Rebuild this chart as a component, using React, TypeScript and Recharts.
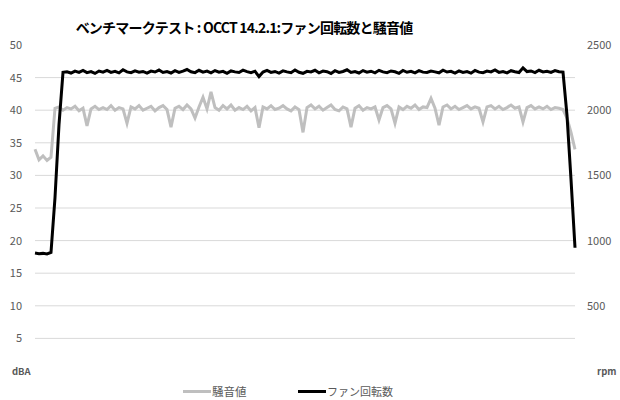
import React from "react";
import { LineChart, Line, XAxis, YAxis, ReferenceLine } from "recharts";

const TITLE = "ベンチマークテスト : OCCT 14.2.1:ファン回転数と騒音値";
const NOISE_NAME = "騒音値";
const FAN_NAME = "ファン回転数";

// 騒音値 (dBA)
const noise: number[] = [
  34.0, 32.4, 33.0, 32.3, 32.8,
  40.3, 40.5, 40.0, 40.4, 40.2,
  40.6, 39.9, 40.3, 37.6, 40.2, 40.6, 40.1, 40.4, 40.1, 40.7,
  40.0, 40.4, 40.2, 38.0, 40.5, 40.2, 40.7, 40.0, 40.3, 40.6,
  39.9, 40.4, 40.7, 40.1, 37.4, 40.3, 40.6, 40.1, 40.8, 40.2,
  38.8, 40.5, 42.0, 40.2, 42.8, 40.4, 40.0, 40.7, 40.2, 40.8,
  40.0, 40.4, 40.1, 40.6, 39.9, 40.4, 37.3, 40.5, 40.2, 40.7,
  40.1, 40.3, 40.7, 40.2, 39.9, 40.5, 40.1, 36.6, 40.4, 40.8,
  40.2, 40.6, 40.0, 40.4, 40.8, 40.1, 39.9, 40.5, 40.2, 37.4,
  40.3, 40.7, 40.0, 40.4, 40.2, 40.5, 38.5, 40.4, 40.7, 40.2,
  38.0, 40.5, 40.1, 40.6, 40.3, 40.8, 40.1, 40.5, 40.4, 41.8,
  40.3, 37.7, 40.5, 40.8, 40.2, 40.6, 40.1, 40.4, 40.7, 40.2,
  40.5, 40.3, 38.2, 40.5, 40.7, 40.2, 40.6, 40.1, 40.4, 40.8,
  40.3, 40.5, 38.2, 40.4, 40.7, 40.2, 40.5, 40.2, 40.6, 40.1,
  40.4, 40.3, 40.1, 38.8, 36.6, 34.0,
];

// ファン回転数 (rpm)
const fan: number[] = [
  905, 900, 902, 898, 910, 1330, 1890, 2290, 2295, 2285,
  2300, 2290, 2305, 2288, 2296, 2282, 2300, 2292, 2305, 2290,
  2298, 2286, 2310, 2294, 2288, 2302, 2291, 2297, 2284, 2300,
  2293, 2308, 2289, 2296, 2285, 2303, 2290, 2299, 2312, 2295,
  2288, 2306, 2292, 2300, 2286, 2304, 2291, 2298, 2283, 2301,
  2294, 2289, 2307, 2296, 2288, 2299, 2258, 2293, 2305, 2290,
  2297, 2285, 2302, 2294, 2288, 2309, 2291, 2283, 2298, 2293,
  2306, 2287, 2300, 2295, 2282, 2303, 2290, 2297, 2310, 2289,
  2296, 2285, 2304, 2292, 2299, 2287, 2306, 2294, 2288, 2301,
  2295, 2283, 2305, 2291, 2298, 2286, 2303, 2292, 2289, 2300,
  2294, 2287, 2307, 2293, 2298, 2285, 2302, 2290, 2296, 2284,
  2305, 2292, 2288, 2300, 2294, 2309, 2290, 2297, 2286, 2303,
  2295, 2289, 2325, 2296, 2301, 2288, 2306, 2293, 2299, 2290,
  2304, 2295, 2292, 1960, 1470, 945,
];

const leftTicks = [0, 5, 10, 15, 20, 25, 30, 35, 40, 45, 50];
const rightTicks = [0, 500, 1000, 1500, 2000, 2500];
const gridValues = [5, 10, 15, 20, 25, 30, 35, 40, 45];
const LEFT_UNIT = "dBA";
const RIGHT_UNIT = "rpm";

const data = noise.map((v, i) => ({ t: i, dba: v, rpm: fan[i] }));

const FONT = "'Noto Sans CJK JP', 'Open Sans', sans-serif";
const TEXT = "#595959";

const LeftTick = (props: any) => {
  const { y, payload } = props;
  if (payload.value === 0) {
    return (
      <text x={12} y={y} dy={4} fontSize={9.5} fontWeight="bold" fill={TEXT} fontFamily={FONT}>
        {LEFT_UNIT}
      </text>
    );
  }
  return (
    <text x={22} y={y} dy={4} textAnchor="end" fontSize={11} fill={TEXT} fontFamily={FONT}>
      {payload.value}
    </text>
  );
};

const RightTick = (props: any) => {
  const { y, payload } = props;
  if (payload.value === 0) {
    return (
      <text x={597} y={y} dy={4} fontSize={9.5} fontWeight="bold" fill={TEXT} fontFamily={FONT}>
        {RIGHT_UNIT}
      </text>
    );
  }
  return (
    <text x={587} y={y} dy={4} textAnchor="start" fontSize={11} fill={TEXT} fontFamily={FONT}>
      {payload.value}
    </text>
  );
};

export default function App() {
  return (
    <div style={{ position: "absolute", left: 0, top: 0, width: 620, height: 400, background: "#fff", fontFamily: FONT }}>
      <div
        style={{
          position: "absolute",
          left: 0,
          width: 488,
          top: 17,
          textAlign: "center",
          fontSize: 14,
          fontWeight: "bold",
          color: "#000",
          whiteSpace: "nowrap",
          letterSpacing: -0.8,
        }}
      >
        {TITLE}
      </div>
      <LineChart width={620} height={400} data={data} margin={{ top: 45, right: 0, bottom: 29, left: 0 }}>
        <XAxis dataKey="t" hide />
        <YAxis
          yAxisId="left"
          orientation="left"
          width={35}
          domain={[0, 50]}
          ticks={leftTicks}
          axisLine={false}
          tickLine={false}
          tick={LeftTick}
          interval={0}
        />
        <YAxis
          yAxisId="right"
          orientation="right"
          width={45}
          domain={[0, 2500]}
          ticks={rightTicks}
          axisLine={false}
          tickLine={false}
          tick={RightTick}
          interval={0}
        />
        {gridValues.map((g) => (
          <ReferenceLine key={g} yAxisId="left" y={g} stroke="#d9d9d9" strokeWidth={1} />
        ))}
        <Line
          yAxisId="left"
          type="linear"
          dataKey="dba"
          name={NOISE_NAME}
          stroke="#bfbfbf"
          strokeWidth={3}
          dot={false}
          isAnimationActive={false}
        />
        <Line
          yAxisId="right"
          type="linear"
          dataKey="rpm"
          name={FAN_NAME}
          stroke="#000000"
          strokeWidth={3}
          dot={false}
          isAnimationActive={false}
        />
      </LineChart>
      <div style={{ position: "absolute", left: 183, top: 390, width: 28, height: 3, background: "#bfbfbf" }} />
      <div style={{ position: "absolute", left: 212, top: 383, fontSize: 11.5, color: TEXT, whiteSpace: "nowrap" }}>
        {NOISE_NAME}
      </div>
      <div style={{ position: "absolute", left: 298, top: 390, width: 28, height: 3, background: "#000" }} />
      <div style={{ position: "absolute", left: 327, top: 383, fontSize: 11, color: TEXT, whiteSpace: "nowrap" }}>
        {FAN_NAME}
      </div>
    </div>
  );
}
